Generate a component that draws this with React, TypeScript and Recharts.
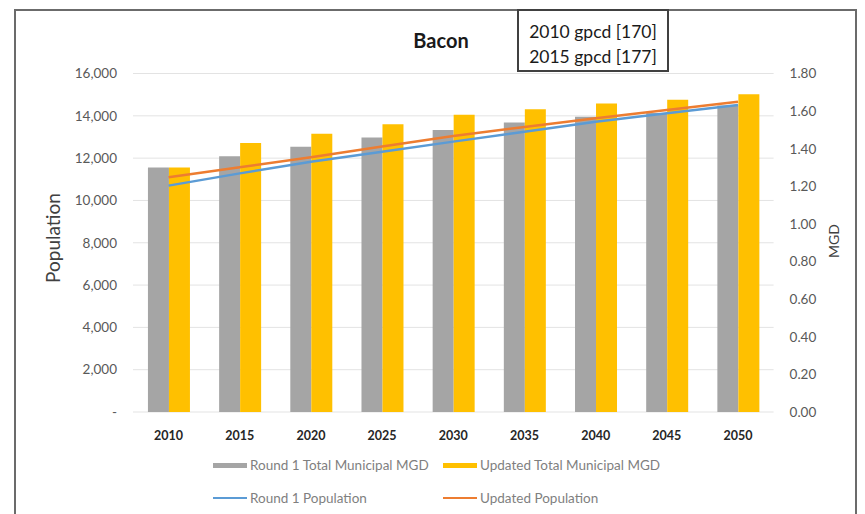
import React from 'react';
import { ComposedChart, Bar, Line, XAxis, YAxis, CartesianGrid } from 'recharts';

const years = ['2010', '2015', '2020', '2025', '2030', '2035', '2040', '2045', '2050'];
const round1Mgd = [1.30, 1.36, 1.41, 1.46, 1.50, 1.54, 1.57, 1.59, 1.63];
const updatedMgd = [1.30, 1.43, 1.48, 1.53, 1.58, 1.61, 1.64, 1.66, 1.69];
const round1Pop = [10700, 11280, 11830, 12300, 12780, 13250, 13720, 14120, 14510];
const updatedPop = [11100, 11570, 12040, 12550, 13050, 13470, 13880, 14270, 14670];

const popTicks = [0, 2000, 4000, 6000, 8000, 10000, 12000, 14000, 16000];
const mgdTicks = [0, 0.2, 0.4, 0.6, 0.8, 1.0, 1.2, 1.4, 1.6, 1.8];
const gpcdNotes = ['2010 gpcd [170]', '2015 gpcd [177]'];

const legendItems = [
    { label: 'Round 1 Total Municipal MGD', color: '#a5a5a5', kind: 'bar' },
    { label: 'Updated Total Municipal MGD', color: '#ffc000', kind: 'bar' },
    { label: 'Round 1 Population', color: '#5b9bd5', kind: 'line' },
    { label: 'Updated Population', color: '#ed7d31', kind: 'line' },
];

const chartData = years.map((year, i) => ({
    year,
    round1Mgd: round1Mgd[i],
    updatedMgd: updatedMgd[i],
    round1Pop: round1Pop[i],
    updatedPop: updatedPop[i],
}));

const FONT = 'Lato, "Open Sans", sans-serif';

export default function App() {
    return (
        <div style={{ position: 'absolute', left: 0, top: 0, width: 865, height: 514, background: '#fff', overflow: 'hidden', fontFamily: FONT }}>
            <div style={{ position: 'absolute', left: 14, top: 9, width: 843, height: 520, border: '2px solid #6b6b6b', boxSizing: 'border-box' }} />
            <ComposedChart
                width={865}
                height={514}
                data={chartData}
                margin={{ top: 73.5, right: 0, left: 0, bottom: 72 }}
                barCategoryGap="21%"
                barGap={0}
            >
                <CartesianGrid vertical={false} stroke="#e3e3e3" yAxisId="left" />
                <XAxis
                    dataKey="year"
                    axisLine={false}
                    tickLine={false}
                    tickMargin={13}
                    tick={{ fill: '#262626', fontSize: 12.5, fontWeight: 700, fontFamily: FONT }}
                    height={30}
                />
                <YAxis
                    yAxisId="left"
                    orientation="left"
                    width={133}
                    domain={[0, 16000]}
                    ticks={popTicks}
                    axisLine={false}
                    tickLine={false}
                    tickMargin={10}
                    tickFormatter={(v: number) => (v === 0 ? '-' : v.toLocaleString('en-US'))}
                    tick={{ fill: '#595959', fontSize: 13.5, fontFamily: FONT }}
                />
                <YAxis
                    yAxisId="right"
                    orientation="right"
                    width={91.4}
                    domain={[0, 1.8]}
                    ticks={mgdTicks}
                    axisLine={false}
                    tickLine={false}
                    tickMargin={10}
                    tickFormatter={(v: number) => v.toFixed(2)}
                    tick={{ fill: '#595959', fontSize: 13.5, fontFamily: FONT, textAnchor: 'start' }}
                />
                <Bar yAxisId="right" dataKey="round1Mgd" fill="#a5a5a5" isAnimationActive={false} />
                <Bar yAxisId="right" dataKey="updatedMgd" fill="#ffc000" isAnimationActive={false} />
                <Line yAxisId="left" dataKey="round1Pop" stroke="#5b9bd5" strokeWidth={2.5} dot={false} isAnimationActive={false} />
                <Line yAxisId="left" dataKey="updatedPop" stroke="#ed7d31" strokeWidth={2.5} dot={false} isAnimationActive={false} />
            </ComposedChart>

            <div style={{ position: 'absolute', left: 341, top: 27, width: 200, textAlign: 'center', fontSize: 20, fontWeight: 700, color: '#1a1a1a', lineHeight: '26px' }}>
                Bacon
            </div>

            <div style={{ position: 'absolute', left: 517, top: 9, width: 152, height: 63, border: '2px solid #404040', background: '#fff', boxSizing: 'border-box', paddingTop: 8, display: 'flex', flexDirection: 'column', alignItems: 'center' }}>
                {gpcdNotes.map(n => (
                    <div key={n} style={{ fontSize: 17.5, color: '#1a1a1a', lineHeight: '25px', whiteSpace: 'nowrap' }}>{n}</div>
                ))}
            </div>

            <div style={{ position: 'absolute', left: 52, top: 238, transform: 'translate(-50%, -50%) rotate(-90deg)', fontSize: 19, color: '#404040', whiteSpace: 'nowrap' }}>
                Population
            </div>
            <div style={{ position: 'absolute', left: 833, top: 241, transform: 'translate(-50%, -50%) rotate(-90deg)', fontSize: 14, color: '#404040', whiteSpace: 'nowrap' }}>
                MGD
            </div>

            <div style={{ position: 'absolute', left: 213, top: 455, display: 'grid', gridTemplateColumns: '230px 230px', rowGap: 13 }}>
                {legendItems.map(item => (
                    <div key={item.label} style={{ display: 'flex', alignItems: 'center', height: 20, fontSize: 13.5, color: '#7f7f7f', whiteSpace: 'nowrap' }}>
                        <span style={{ display: 'inline-block', width: 34, height: item.kind === 'bar' ? 5 : 2, background: item.color, marginRight: 3 }} />
                        {item.label}
                    </div>
                ))}
            </div>
        </div>
    );
}
